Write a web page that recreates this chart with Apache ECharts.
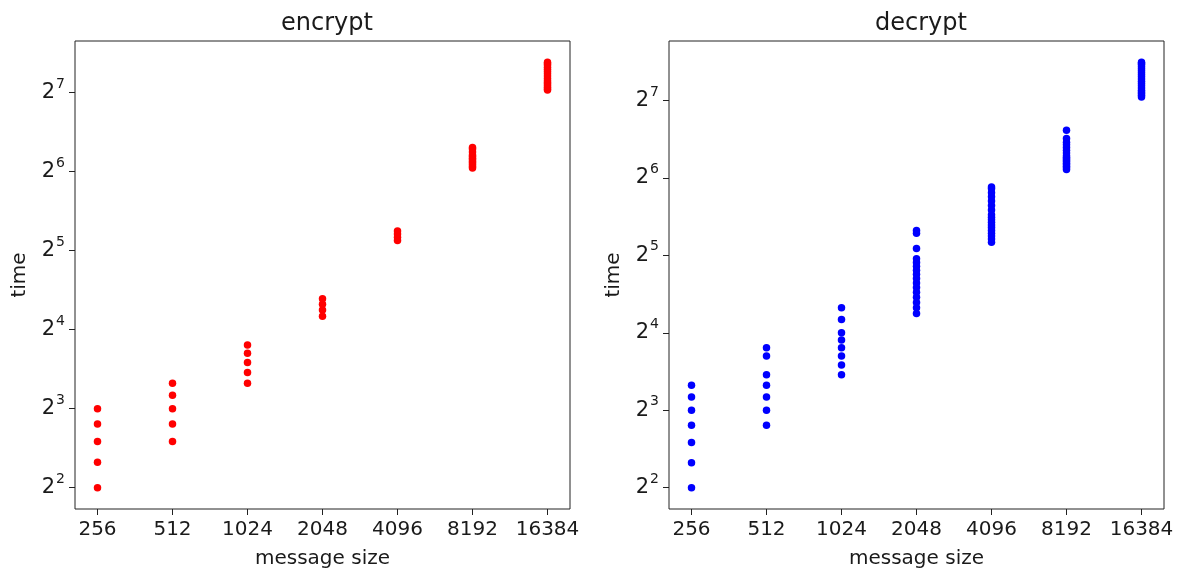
<!DOCTYPE html>
<html>
<head>
<meta charset="utf-8">
<script src="https://cdn.jsdelivr.net/npm/echarts@6/dist/echarts.min.js"></script>
<style>
html,body{margin:0;padding:0;background:#fff;}
#chart{width:1183px;height:574px;}
</style>
</head>
<body>
<div id="chart"></div>
<script>
// ---- data ----
const messageSizes = [256, 512, 1024, 2048, 4096, 8192, 16384];
const sizeTicks = [256, 512, 1024, 2048, 4096, 8192, 16384];
const timeTicks = [4, 8, 16, 32, 64, 128];

const encryptTimes = [
  [4, 5, 6, 7, 8],
  [6, 7, 8, 9, 10],
  [10, 11, 12, 13, 14],
  [18, 19, 20, 21],
  [35, 36, 37, 38],
  [66, 67, 68, 69, 70, 71, 72, 73, 74, 76, 78, 79],
  [131, 132, 134, 136, 138, 140, 142, 145, 148, 151, 154, 157, 160, 163, 165, 167]
];
const decryptTimes = [
  [4, 5, 6, 7, 8, 9, 10],
  [7, 8, 9, 10, 11, 13, 14],
  [11, 12, 13, 14, 15, 16, 18, 20],
  [19, 20, 21, 22, 23, 24, 25, 26, 27, 28, 29, 30, 31, 34, 39, 40],
  [36, 37, 38, 39, 40, 41, 42, 43, 44, 45, 46, 48, 50, 52, 54, 56, 58, 59],
  [69, 70, 71, 72, 73, 74, 75, 76, 77, 78, 80, 82, 84, 86, 88, 91, 98],
  [132, 134, 136, 138, 140, 143, 146, 149, 152, 155, 158, 161, 164, 167, 170, 173, 176, 178, 180]
];

// ---- build ----
function pairs(times) {
  const out = [];
  messageSizes.forEach((s, i) => times[i].forEach(t => out.push([s, t])));
  return out;
}
// matplotlib-like 5% margin in log space
function padMin(r) {
  return function (e) {
    const a = Math.log2(e.min), b = Math.log2(e.max);
    return Math.pow(2, a - r * (b - a));
  };
}
function padMax(r) {
  return function (e) {
    const a = Math.log2(e.min), b = Math.log2(e.max);
    return Math.pow(2, b + r * (b - a));
  };
}

const FONT = 'DejaVu Sans';
const TXT = '#1a1a1a';

function xAxisCfg(gi) {
  return {
    type: 'log', logBase: 2, gridIndex: gi,
    min: padMin(0.05), max: padMax(0.05),
    name: 'message size', nameLocation: 'middle', nameGap: 40,
    nameTextStyle: { fontFamily: FONT, fontSize: 20, color: TXT },
    axisLine: { show: false },
    splitLine: { show: false },
    minorTick: { show: false },
    axisTick: { show: true, length: 6, lineStyle: { color: '#222', width: 1 }, customValues: sizeTicks },
    axisLabel: { fontFamily: FONT, fontSize: 20, color: TXT, margin: 11, customValues: sizeTicks,
      formatter: v => String(Math.round(v)) }
  };
}
function yAxisCfg(gi) {
  return {
    type: 'log', logBase: 2, gridIndex: gi,
    min: padMin(0.05), max: padMax(0.05),
    name: 'time', nameLocation: 'middle', nameGap: 45,
    nameTextStyle: { fontFamily: FONT, fontSize: 20, color: TXT },
    axisLine: { show: false },
    splitLine: { show: false },
    minorTick: { show: false },
    axisTick: { show: true, length: 6, lineStyle: { color: '#222', width: 1 }, customValues: timeTicks },
    axisLabel: {
      fontFamily: FONT, fontSize: 20, color: TXT, margin: 10, customValues: timeTicks,
      formatter: v => '{b|2}{s|' + Math.round(Math.log2(v)) + '}',
      rich: {
        b: { fontFamily: FONT, fontSize: 21, color: TXT },
        s: { fontFamily: FONT, fontSize: 14, color: TXT, padding: [0, 0, 17, 1] }
      }
    }
  };
}

const chart = echarts.init(document.getElementById('chart'), null, { renderer: 'canvas' });
chart.setOption({
  animation: false,
  backgroundColor: '#fff',
  title: [
    { text: 'encrypt', left: 322, top: 7, textAlign: 'center',
      textStyle: { fontFamily: FONT, fontSize: 24, fontWeight: 'normal', color: TXT } },
    { text: 'decrypt', left: 916, top: 7, textAlign: 'center',
      textStyle: { fontFamily: FONT, fontSize: 24, fontWeight: 'normal', color: TXT } }
  ],
  grid: [
    { left: 75, top: 41, width: 495, height: 468, show: true, borderColor: '#222', borderWidth: 1, backgroundColor: 'transparent' },
    { left: 669, top: 41, width: 495, height: 468, show: true, borderColor: '#222', borderWidth: 1, backgroundColor: 'transparent' }
  ],
  xAxis: [xAxisCfg(0), xAxisCfg(1)],
  yAxis: [yAxisCfg(0), yAxisCfg(1)],
  series: [
    { name: 'encrypt', type: 'scatter', xAxisIndex: 0, yAxisIndex: 0, symbol: 'circle', symbolSize: 7.5,
      itemStyle: { color: '#ff0000', opacity: 1 }, data: pairs(encryptTimes) },
    { name: 'decrypt', type: 'scatter', xAxisIndex: 1, yAxisIndex: 1, symbol: 'circle', symbolSize: 7.5,
      itemStyle: { color: '#0000ff', opacity: 1 }, data: pairs(decryptTimes) }
  ]
});
</script>
</body>
</html>
